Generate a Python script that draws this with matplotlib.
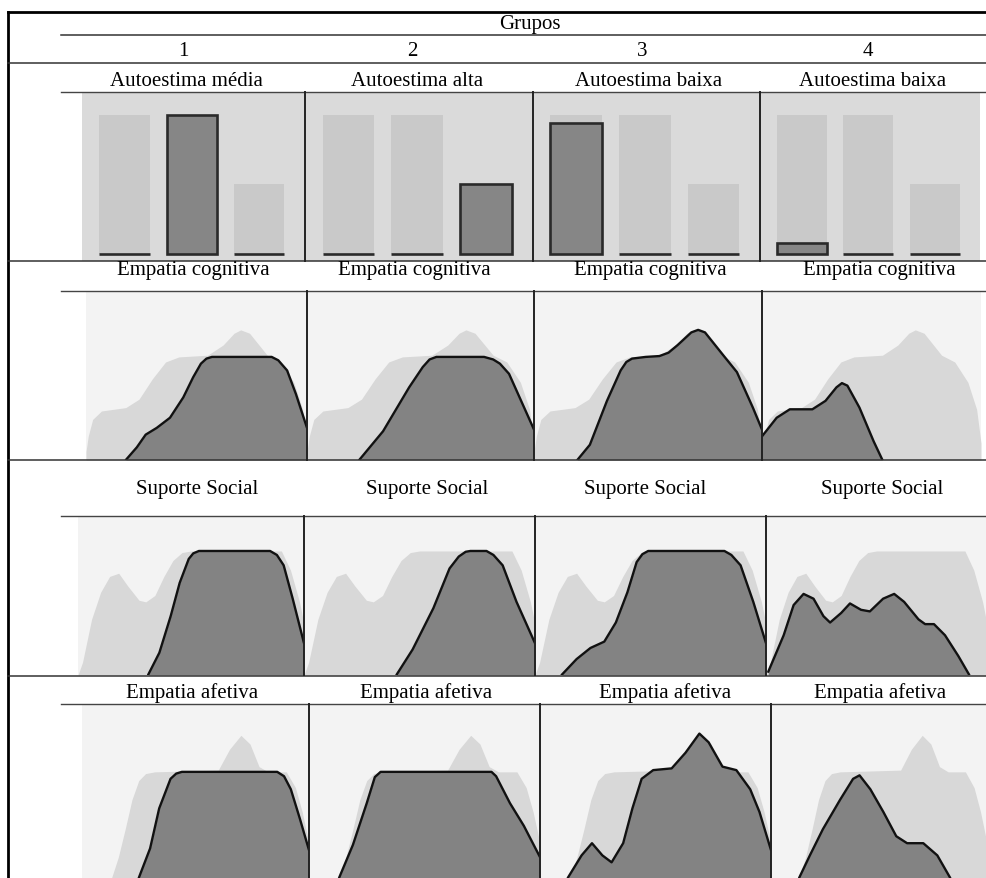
import matplotlib
matplotlib.use("Agg")
import matplotlib.pyplot as plt

W, H = 987, 879

# header
groups = ["1", "2", "3", "4"]
bar_titles = ["Autoestima média", "Autoestima alta", "Autoestima baixa", "Autoestima baixa"]
row_names = ["Empatia cognitiva", "Suporte Social", "Empatia afetiva"]

# row 1: bars (overall in light, group in dark)
bar_overall = [100, 100, 50]
bar_group = [[0, 100, 0], [0, 0, 50], [94, 0, 0], [8, 0, 0]]

# row 2: Empatia cognitiva
cog_all_x = [0.0, 0.01, 0.03, 0.07, 0.18, 0.24, 0.30, 0.36, 0.42, 0.55, 0.62, 0.67, 0.70, 0.74, 0.82, 0.88, 0.94, 0.98, 1.0]
cog_all_y = [0.05, 0.14, 0.24, 0.29, 0.31, 0.36, 0.48, 0.58, 0.61, 0.62, 0.68, 0.75, 0.77, 0.75, 0.62, 0.58, 0.46, 0.30, 0.10]
cog_x = [
    [0.18, 0.23, 0.27, 0.32, 0.38, 0.44, 0.485, 0.52, 0.545, 0.57, 0.84, 0.87, 0.91, 0.95, 1.0],
    [0.23, 0.335, 0.45, 0.51, 0.54, 0.57, 0.78, 0.82, 0.85, 0.89, 0.95, 1.0],
    [0.19, 0.245, 0.32, 0.38, 0.405, 0.43, 0.49, 0.55, 0.59, 0.63, 0.69, 0.72, 0.75, 0.83, 0.89, 0.96, 1.0],
    [0.0, 0.067, 0.127, 0.23, 0.29, 0.34, 0.365, 0.39, 0.445, 0.51, 0.55],
]
cog_y = [
    [0.0, 0.075, 0.15, 0.19, 0.25, 0.37, 0.49, 0.57, 0.60, 0.61, 0.61, 0.59, 0.53, 0.39, 0.19],
    [0.0, 0.17, 0.43, 0.55, 0.595, 0.61, 0.61, 0.595, 0.57, 0.51, 0.33, 0.18],
    [0.0, 0.09, 0.35, 0.53, 0.58, 0.60, 0.61, 0.615, 0.635, 0.68, 0.755, 0.77, 0.755, 0.62, 0.52, 0.31, 0.18],
    [0.14, 0.25, 0.30, 0.30, 0.35, 0.43, 0.455, 0.44, 0.31, 0.11, 0.0],
]

# row 3: Suporte Social
sup_all_x = [0.0, 0.02, 0.06, 0.10, 0.14, 0.18, 0.22, 0.27, 0.30, 0.34, 0.38, 0.42, 0.46, 0.50, 0.90, 0.94, 0.98, 1.0]
sup_all_y = [0.0, 0.08, 0.35, 0.52, 0.62, 0.64, 0.56, 0.47, 0.46, 0.50, 0.62, 0.72, 0.77, 0.78, 0.78, 0.66, 0.46, 0.32]
sup_x = [
    [0.31, 0.36, 0.41, 0.45, 0.49, 0.51, 0.535, 0.85, 0.88, 0.91, 0.95, 1.0],
    [0.40, 0.47, 0.56, 0.63, 0.67, 0.70, 0.72, 0.79, 0.82, 0.86, 0.92, 1.0],
    [0.115, 0.18, 0.24, 0.30, 0.35, 0.40, 0.44, 0.465, 0.49, 0.82, 0.85, 0.89, 0.945, 1.0],
    [0.01, 0.08, 0.125, 0.17, 0.215, 0.26, 0.29, 0.34, 0.38, 0.43, 0.47, 0.53, 0.58, 0.625, 0.69, 0.72, 0.76, 0.81, 0.87, 0.92],
]
sup_y = [
    [0.0, 0.14, 0.37, 0.58, 0.73, 0.765, 0.78, 0.78, 0.755, 0.69, 0.48, 0.20],
    [0.0, 0.16, 0.42, 0.67, 0.745, 0.775, 0.78, 0.78, 0.755, 0.69, 0.46, 0.20],
    [0.0, 0.10, 0.17, 0.21, 0.33, 0.52, 0.71, 0.76, 0.78, 0.78, 0.755, 0.69, 0.46, 0.20],
    [0.02, 0.25, 0.44, 0.51, 0.48, 0.37, 0.33, 0.39, 0.45, 0.41, 0.40, 0.48, 0.51, 0.46, 0.35, 0.32, 0.32, 0.25, 0.12, 0.0],
]

# row 4: Empatia afetiva
afe_all_x = [0.13, 0.16, 0.19, 0.22, 0.25, 0.28, 0.32, 0.60, 0.65, 0.70, 0.74, 0.78, 0.82, 0.90, 0.94, 0.97, 1.0]
afe_all_y = [0.0, 0.12, 0.28, 0.45, 0.56, 0.60, 0.61, 0.62, 0.74, 0.82, 0.77, 0.64, 0.61, 0.61, 0.52, 0.38, 0.20]
afe_x = [
    [0.25, 0.30, 0.34, 0.39, 0.415, 0.44, 0.86, 0.89, 0.92, 0.96, 1.0],
    [0.13, 0.19, 0.25, 0.285, 0.31, 0.79, 0.81, 0.87, 0.93, 1.0],
    [0.12, 0.18, 0.225, 0.27, 0.31, 0.36, 0.40, 0.44, 0.49, 0.57, 0.63, 0.69, 0.73, 0.79, 0.85, 0.91, 0.95, 1.0],
    [0.13, 0.18, 0.24, 0.32, 0.38, 0.41, 0.46, 0.52, 0.58, 0.63, 0.705, 0.77, 0.83],
]
afe_y = [
    [0.0, 0.17, 0.40, 0.57, 0.60, 0.61, 0.61, 0.585, 0.51, 0.34, 0.16],
    [0.0, 0.19, 0.43, 0.58, 0.61, 0.61, 0.585, 0.43, 0.30, 0.12],
    [0.0, 0.13, 0.20, 0.13, 0.09, 0.20, 0.40, 0.57, 0.62, 0.63, 0.72, 0.83, 0.78, 0.64, 0.62, 0.51, 0.38, 0.16],
    [0.0, 0.13, 0.28, 0.45, 0.57, 0.59, 0.51, 0.38, 0.24, 0.20, 0.20, 0.13, 0.0],
]

# layout in pixels
col_edges = [
    [82, 305, 533, 760, 980],
    [86, 307, 534, 762, 981],
    [78, 304, 535, 766, 987],
    [82, 309, 540, 771, 987],
]
row_span = [(93, 262), (292, 461), (517, 676), (705, 879)]
title_x = [
    [186, 417, 649, 873],
    [193, 414, 650, 879],
    [197, 427, 645, 882],
    [192, 426, 665, 880],
]
title_y = [81, 271, 490, 693]

LIGHT = "#d8d8d8"
DARK = "#838383"
FONT = "Liberation Serif"


def px_axes(fig, x0, x1, y0, y1):
    return fig.add_axes([x0 / W, 1 - y1 / H, (x1 - x0) / W, (y1 - y0) / H])


def clean(ax, bg):
    ax.set_facecolor(bg)
    for s in ax.spines.values():
        s.set_visible(False)
    ax.set_xticks([])
    ax.set_yticks([])


def main():
    fig = plt.figure(figsize=(W / 100, H / 100), dpi=100)
    fig.patch.set_facecolor("white")

    # bar row
    cats = [0, 1, 2]
    e = col_edges[0]
    for g in range(4):
        ax = px_axes(fig, e[g], e[g + 1], *row_span[0])
        clean(ax, "#dadada")
        ax.bar(cats, bar_overall, width=0.75, color="#c9c9c9", zorder=1)
        ax.bar(cats, bar_group[g], width=0.75, color="#868686", edgecolor="#2a2a2a",
               linewidth=1.9, zorder=2)
        ax.set_xlim(-0.63, 2.68)
        ax.set_ylim(-5, 116.5)

    # distribution rows
    all_x = [cog_all_x, sup_all_x, afe_all_x]
    all_y = [cog_all_y, sup_all_y, afe_all_y]
    grp_x = [cog_x, sup_x, afe_x]
    grp_y = [cog_y, sup_y, afe_y]
    for r in range(3):
        e = col_edges[r + 1]
        for g in range(4):
            ax = px_axes(fig, e[g], e[g + 1], *row_span[r + 1])
            clean(ax, "#f3f3f3")
            ax.fill_between(all_x[r], all_y[r], 0, color=LIGHT, lw=0, zorder=1)
            ax.fill_between(grp_x[r][g], grp_y[r][g], 0, color=DARK, lw=0, zorder=2)
            ax.plot(grp_x[r][g], grp_y[r][g], color="#111111", lw=1.7, zorder=3,
                    solid_joinstyle="round", solid_capstyle="round")
            ax.set_xlim(0, 1)
            ax.set_ylim(0, 1)

    # frame, rules and text on top
    ov = fig.add_axes([0, 0, 1, 1])
    ov.set_xlim(0, W)
    ov.set_ylim(H, 0)
    ov.axis("off")
    ov.patch.set_alpha(0)

    ov.plot([8, W], [13, 13], color="black", lw=2.0)
    ov.plot([8, 8], [13, H], color="black", lw=2.0)

    ov.plot([61, W], [36, 36], color="#333333", lw=1.1)
    ov.plot([8, W], [64, 64], color="#333333", lw=1.1)
    for y in [262, 461, 677]:
        ov.plot([8, W], [y, y], color="#333333", lw=1.1)
    for y in [93, 292, 517, 705]:
        ov.plot([61, W], [y, y], color="#444444", lw=1.0)

    for r in range(4):
        e = col_edges[r]
        y0, y1 = row_span[r]
        for xv in e[1:4]:
            ov.plot([xv, xv], [y0, y1], color="#222222", lw=1.4)

    ov.text(530, 25, "Grupos", ha="center", va="center", fontsize=15, family=FONT)
    for g, xg in enumerate([183, 412, 642, 868]):
        ov.text(xg, 51, groups[g], ha="center", va="center", fontsize=15, family=FONT)

    for g in range(4):
        ov.text(title_x[0][g], title_y[0], bar_titles[g], ha="center", va="center",
                fontsize=15, family=FONT)
    for r in range(3):
        for g in range(4):
            ov.text(title_x[r + 1][g], title_y[r + 1], row_names[r], ha="center",
                    va="center", fontsize=15, family=FONT)

    fig.savefig("out.png", dpi=100)


if __name__ == '__main__':
    main()
